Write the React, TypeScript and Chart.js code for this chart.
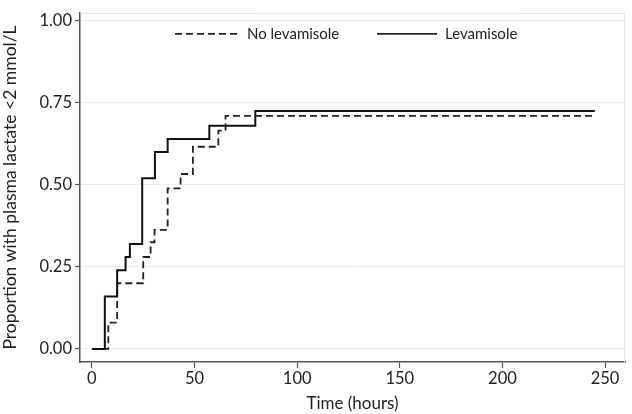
import React, { useEffect, useRef } from "react";
import { Chart, registerables } from "chart.js";

Chart.register(...registerables);

// Kaplan–Meier style step data: [time (hours), proportion]
const noLevTimes = [0, 8, 12.3, 25, 28.6, 30.5, 36.9, 43.2, 49.2, 61.6, 65.1, 245];
const noLevValues = [0, 0.08, 0.2, 0.28, 0.325, 0.363, 0.489, 0.533, 0.616, 0.665, 0.71, 0.71];
const levTimes = [0, 6.3, 12.3, 16.4, 18.5, 24.5, 30.7, 36.9, 57.2, 79.6, 245];
const levValues = [0, 0.16, 0.24, 0.28, 0.32, 0.52, 0.6, 0.64, 0.68, 0.725, 0.725];

const xTicks = [0, 50, 100, 150, 200, 250];
const yTicks = [0, 0.25, 0.5, 0.75, 1];
const seriesLabels = ["No levamisole", "Levamisole"];
const xTitle = "Time (hours)";
const yTitle = "Proportion with plasma lactate <2 mmol/L";

const FONT = "Lato, 'Open Sans', sans-serif";

const legendPlugin = {
  id: "insideLegend",
  afterDatasetsDraw(chart: any) {
    const { ctx, chartArea } = chart;
    const y = chartArea.top + 21;
    ctx.save();
    ctx.strokeStyle = "#222";
    ctx.lineWidth = 1.7;
    ctx.font = `15px ${FONT}`;
    ctx.fillStyle = "#222";
    ctx.textBaseline = "middle";
    // dashed entry
    ctx.setLineDash([7, 4]);
    ctx.beginPath();
    ctx.moveTo(chartArea.left + 95, y);
    ctx.lineTo(chartArea.left + 158, y);
    ctx.stroke();
    ctx.setLineDash([]);
    ctx.fillText(seriesLabels[0], chartArea.left + 167, y);
    // solid entry
    ctx.beginPath();
    ctx.moveTo(chartArea.left + 297, y);
    ctx.lineTo(chartArea.left + 357, y);
    ctx.stroke();
    ctx.fillText(seriesLabels[1], chartArea.left + 365, y);
    ctx.restore();
  },
  afterDraw(chart: any) {
    const { ctx, chartArea } = chart;
    ctx.save();
    ctx.strokeStyle = "#e6e6e6";
    ctx.lineWidth = 1;
    ctx.beginPath();
    ctx.moveTo(chartArea.left, chartArea.top + 0.5);
    ctx.lineTo(chartArea.right - 0.5, chartArea.top + 0.5);
    ctx.lineTo(chartArea.right - 0.5, chartArea.bottom);
    ctx.stroke();
    ctx.restore();
  },
};

export default function App() {
  const ref = useRef<HTMLCanvasElement>(null);
  useEffect(() => {
    if (!ref.current) return;
    const chart = new Chart(ref.current, {
      type: "line",
      data: {
        datasets: [
          {
            label: seriesLabels[1],
            data: levTimes.map((t, i) => ({ x: t, y: levValues[i] })),
            borderColor: "#111",
            borderWidth: 2,
            stepped: "before",
            pointRadius: 0,
            fill: false,
          },
          {
            label: seriesLabels[0],
            data: noLevTimes.map((t, i) => ({ x: t, y: noLevValues[i] })),
            borderColor: "#222",
            borderWidth: 1.8,
            borderDash: [7, 4],
            stepped: "before",
            pointRadius: 0,
            fill: false,
          },
        ],
      },
      options: {
        animation: false,
        responsive: true,
        maintainAspectRatio: false,
        layout: { padding: { top: 12, right: 7, left: 0, bottom: 0 } },
        plugins: { legend: { display: false }, tooltip: { enabled: false } },
        scales: {
          x: {
            type: "linear",
            min: -5.8,
            max: 259.7,
            afterBuildTicks: (s: any) => {
              s.ticks = xTicks.map((v) => ({ value: v }));
            },
            afterFit: (s: any) => {
              s.height = 52;
            },
            grid: { drawOnChartArea: false, tickLength: 6, tickColor: "#555", tickWidth: 1.2 },
            border: { color: "#555", width: 1.5 },
            ticks: { font: { family: FONT, size: 16.5 }, color: "#222", padding: 1, maxRotation: 0 },
            title: { display: true, text: xTitle, font: { family: FONT, size: 17 }, color: "#222", padding: { top: 0, bottom: 0 } },
          },
          y: {
            type: "linear",
            min: -0.04,
            max: 1.024,
            afterBuildTicks: (s: any) => {
              s.ticks = yTicks.map((v) => ({ value: v }));
            },
            afterFit: (s: any) => {
              s.width = 80;
            },
            grid: { color: "#ececec", lineWidth: 1, tickLength: 5, tickColor: "#555", tickWidth: 1.2 },
            border: { color: "#555", width: 1.5 },
            ticks: {
              font: { family: FONT, size: 16.5 },
              color: "#222",
              padding: 3,
              callback: (v: any) => Number(v).toFixed(2),
            },
            title: { display: true, text: yTitle, font: { family: FONT, size: 17.5 }, color: "#222", padding: { top: 0, bottom: 1 } },
          },
        },
      },
      plugins: [legendPlugin],
    });
    return () => chart.destroy();
  }, []);
  return (
    <div style={{ position: "fixed", left: 0, top: 0, width: 632, height: 414, background: "#fff" }}>
      <canvas ref={ref} />
    </div>
  );
}
